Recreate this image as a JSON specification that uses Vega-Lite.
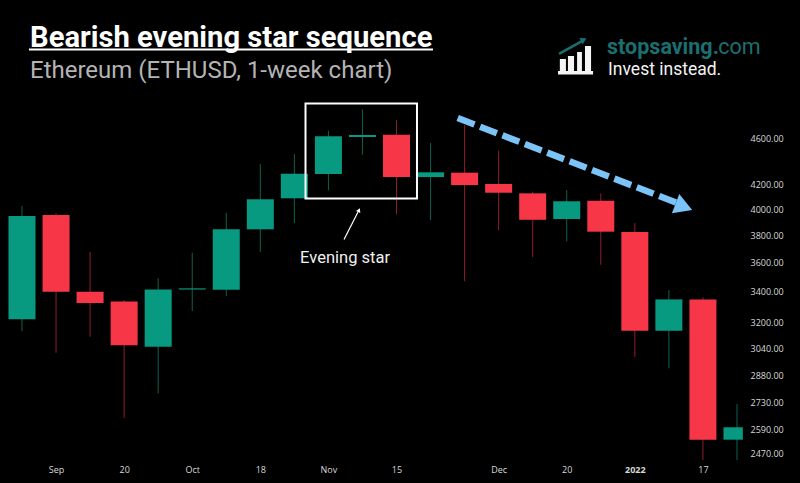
{
  "$schema": "https://vega.github.io/schema/vega-lite/v6.json",
  "width": 800,
  "height": 483,
  "padding": 0,
  "autosize": {"type": "fit", "contains": "padding"},
  "background": "#000000",
  "title": {
    "text": "Bearish evening star sequence",
    "subtitle": "Ethereum (ETHUSD, 1-week chart)",
    "anchor": "start",
    "frame": "group",
    "orient": "top",
    "offset": -83,
    "dx": 30,
    "font": "Roboto",
    "fontSize": 29.2,
    "fontWeight": 700,
    "color": "#ffffff",
    "subtitleFont": "Roboto",
    "subtitleFontSize": 24,
    "subtitleFontWeight": 400,
    "subtitleColor": "#b4b4b4",
    "subtitlePadding": 6
  },
  "datasets": {
    "candles": [
      {"date": "2021-08-30T00:00Z", "open": 3219, "high": 4026, "low": 3145, "close": 3947},
      {"date": "2021-09-06T00:00Z", "open": 3955, "high": 3971, "low": 3013, "close": 3399},
      {"date": "2021-09-13T00:00Z", "open": 3399, "high": 3676, "low": 3110, "close": 3324},
      {"date": "2021-09-20T00:00Z", "open": 3335, "high": 3344, "low": 2649, "close": 3058},
      {"date": "2021-09-27T00:00Z", "open": 3049, "high": 3490, "low": 2781, "close": 3415},
      {"date": "2021-10-04T00:00Z", "open": 3414, "high": 3671, "low": 3272, "close": 3422},
      {"date": "2021-10-11T00:00Z", "open": 3413, "high": 3971, "low": 3370, "close": 3845},
      {"date": "2021-10-18T00:00Z", "open": 3845, "high": 4374, "low": 3676, "close": 4080},
      {"date": "2021-10-25T00:00Z", "open": 4088, "high": 4461, "low": 3893, "close": 4291},
      {"date": "2021-11-01T00:00Z", "open": 4289, "high": 4671, "low": 4153, "close": 4620},
      {"date": "2021-11-08T00:00Z", "open": 4614, "high": 4873, "low": 4455, "close": 4632},
      {"date": "2021-11-15T00:00Z", "open": 4635, "high": 4771, "low": 3961, "close": 4263},
      {"date": "2021-11-22T00:00Z", "open": 4263, "high": 4559, "low": 3916, "close": 4303},
      {"date": "2021-11-29T00:00Z", "open": 4300, "high": 4724, "low": 3470, "close": 4196},
      {"date": "2021-12-06T00:00Z", "open": 4205, "high": 4491, "low": 3837, "close": 4133},
      {"date": "2021-12-13T00:00Z", "open": 4128, "high": 4141, "low": 3640, "close": 3918},
      {"date": "2021-12-20T00:00Z", "open": 3924, "high": 4155, "low": 3755, "close": 4064},
      {"date": "2021-12-27T00:00Z", "open": 4068, "high": 4128, "low": 3585, "close": 3827},
      {"date": "2022-01-03T00:00Z", "open": 3824, "high": 3893, "low": 2988, "close": 3147},
      {"date": "2022-01-10T00:00Z", "open": 3147, "high": 3410, "low": 2922, "close": 3348},
      {"date": "2022-01-17T00:00Z", "open": 3348, "high": 3362, "low": 2438, "close": 2538},
      {"date": "2022-01-24T00:00Z", "open": 2538, "high": 2723, "low": 2438, "close": 2601}
    ]
  },
  "encoding": {
    "x": {
      "field": "date",
      "type": "temporal",
      "title": null,
      "scale": {"type": "utc", "domain": ["2021-08-25T11:30Z", "2022-02-05T23:00Z"], "padding": 0},
      "axis": {
        "values": ["2021-09-06T00:00Z", "2021-09-20T00:00Z", "2021-10-04T00:00Z", "2021-10-18T00:00Z", "2021-11-01T00:00Z", "2021-11-15T00:00Z", "2021-12-06T00:00Z", "2021-12-20T00:00Z", "2022-01-03T00:00Z", "2022-01-17T00:00Z"],
        "labelExpr": "utcdate(datum.value) > 7 ? utcdate(datum.value) : utcmonth(datum.value) == 0 ? utcyear(datum.value) : utcFormat(datum.value, '%b')",
        "labelFontWeight": {"condition": {"test": "utcmonth(datum.value) == 0 && utcdate(datum.value) < 8", "value": "bold"}, "value": "normal"},
        "grid": false,
        "domain": false,
        "ticks": false,
        "labelPadding": -18,
        "labelFont": "Open Sans",
        "labelFontSize": 9,
        "labelColor": "#d8d8d8",
        "labelFlush": false,
        "labelOverlap": false,
        "zindex": 1
      }
    },
    "y": {
      "field": "price",
      "type": "quantitative",
      "title": null,
      "scale": {"type": "log", "domain": [2330, 6047], "nice": false, "zero": false},
      "axis": {
        "orient": "right",
        "values": [2470, 2590, 2730, 2880, 3040, 3200, 3400, 3600, 3800, 4000, 4200, 4600],
        "format": ".2f",
        "grid": false,
        "domain": false,
        "ticks": false,
        "labelPadding": -50,
        "labelAlign": "left",
        "labelFont": "Open Sans",
        "labelFontSize": 9,
        "labelColor": "#d8d8d8",
        "labelOverlap": false,
        "zindex": 1
      }
    }
  },
  "layer": [
    {
      "data": {"name": "candles"},
      "mark": {"type": "rule", "strokeWidth": 1},
      "encoding": {
        "y": {"field": "low", "type": "quantitative", "title": null, "scale": {"type": "log", "domain": [2330, 6047], "nice": false, "zero": false}},
        "y2": {"field": "high"},
        "color": {"condition": {"test": "datum.close >= datum.open", "value": "#0b6152"}, "value": "#931c2b"}
      }
    },
    {
      "data": {"name": "candles"},
      "mark": {"type": "bar", "size": 27, "orient": "vertical"},
      "encoding": {
        "y": {"field": "open", "type": "quantitative", "title": null, "scale": {"type": "log", "domain": [2330, 6047], "nice": false, "zero": false}},
        "y2": {"field": "close"},
        "color": {"condition": {"test": "datum.close >= datum.open", "value": "#089a80"}, "value": "#f73748"}
      }
    },
    {
      "data": {"values": [{"date": "2022-01-25T05:00Z", "end": "2022-02-05T23:00Z"}]},
      "mark": {"type": "rect", "color": "#000000"},
      "encoding": {"x2": {"field": "end"}, "y": {"value": 0}, "y2": {"value": 483}}
    },
    {
      "data": {"values": [{"date": "2021-10-27T07:00Z", "end": "2021-11-19T05:00Z", "price": 4929, "price2": 4086}]},
      "mark": {"type": "rect", "fillOpacity": 0, "stroke": "#ffffff", "strokeWidth": 2},
      "encoding": {"x2": {"field": "end"}, "y2": {"field": "price2"}}
    },
    {
      "data": {"values": [{"date": "2021-08-31T10:30Z", "end": "2021-11-22T12:00Z", "price": 5484}]},
      "mark": {"type": "rule", "color": "#ffffff", "strokeWidth": 2},
      "encoding": {"x2": {"field": "end"}}
    },
    {
      "data": {"values": [{"date": "2021-11-27T14:00Z", "price": 4790}, {"date": "2022-01-12T07:00Z", "price": 4042}]},
      "mark": {"type": "line", "color": "#7cc4f8", "strokeWidth": 6.5, "strokeDash": [18, 6]}
    },
    {
      "data": {"values": [{"date": "2022-01-13T02:00Z", "price": 4020}]},
      "mark": {"type": "point", "shape": "triangle-right", "filled": true, "opacity": 1, "color": "#7cc4f8", "size": 420, "angle": 21}
    },
    {
      "data": {"values": [{"date": "2021-11-04T05:00Z", "price": 3768}, {"date": "2021-11-07T02:00Z", "price": 3979}]},
      "mark": {"type": "line", "color": "#ffffff", "strokeWidth": 1.2}
    },
    {
      "data": {"values": [{"date": "2021-11-07T07:00Z", "price": 3994}]},
      "mark": {"type": "point", "shape": "triangle-up", "filled": true, "opacity": 1, "color": "#ffffff", "size": 22, "angle": 25}
    },
    {
      "data": {"values": [{"date": "2021-11-04T10:00Z", "price": 3600, "label": "Evening star"}]},
      "mark": {"type": "text", "font": "Roboto", "fontSize": 16.5, "color": "#f0f0f0", "align": "center", "baseline": "alphabetic"},
      "encoding": {"text": {"field": "label"}}
    },
    {
      "data": {"values": [
        {"date": "2021-12-18T14:00Z", "end": "2021-12-19T20:00Z", "price": 5382, "price2": 5256},
        {"date": "2021-12-20T06:00Z", "end": "2021-12-21T12:00Z", "price": 5414, "price2": 5256},
        {"date": "2021-12-22T03:00Z", "end": "2021-12-23T03:00Z", "price": 5457, "price2": 5256},
        {"date": "2021-12-23T18:00Z", "end": "2021-12-25T00:00Z", "price": 5522, "price2": 5256},
        {"date": "2021-12-18T05:00Z", "end": "2021-12-25T10:00Z", "price": 5256, "price2": 5220}
      ]},
      "mark": {"type": "rect", "color": "#f4f4f4"},
      "encoding": {"x2": {"field": "end"}, "y2": {"field": "price2"}}
    },
    {
      "data": {"values": [{"date": "2021-12-18T10:00Z", "price": 5436}, {"date": "2021-12-23T03:00Z", "price": 5576}]},
      "mark": {"type": "line", "color": "#1b6f70", "strokeWidth": 2.5}
    },
    {
      "data": {"values": [{"date": "2021-12-23T12:00Z", "price": 5590}]},
      "mark": {"type": "point", "shape": "triangle-right", "filled": true, "opacity": 1, "color": "#1b6f70", "size": 50, "angle": -28}
    },
    {
      "data": {"values": [{"date": "2021-12-28T07:00Z", "price": 5436, "label": "stopsaving."}]},
      "mark": {"type": "text", "font": "Roboto", "fontSize": 21.5, "fontWeight": 700, "color": "#1b6f70", "align": "left", "baseline": "alphabetic"},
      "encoding": {"text": {"field": "label"}}
    },
    {
      "data": {"values": [{"date": "2022-01-20T03:00Z", "price": 5436, "label": "com"}]},
      "mark": {"type": "text", "font": "Roboto", "fontSize": 21.5, "fontWeight": 400, "color": "#1b6f70", "align": "left", "baseline": "alphabetic"},
      "encoding": {"text": {"field": "label"}}
    },
    {
      "data": {"values": [{"date": "2021-12-28T12:00Z", "price": 5215, "label": "Invest instead."}]},
      "mark": {"type": "text", "font": "Roboto", "fontSize": 17.5, "fontWeight": 400, "color": "#f4f4f4", "align": "left", "baseline": "alphabetic"},
      "encoding": {"text": {"field": "label"}}
    }
  ],
  "config": {"view": {"stroke": null}}
}
